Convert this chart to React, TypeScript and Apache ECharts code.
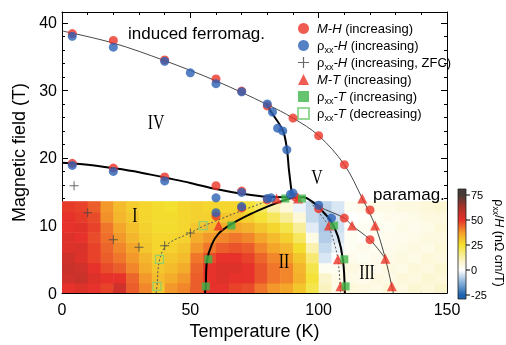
import React, { useEffect, useRef } from 'react';
import * as echarts from 'echarts';

const FONT = '"Liberation Sans", Arial, Helvetica, sans-serif';
const SERIF = '"Liberation Serif", "Times New Roman", serif';

// ---- scatter data ----
const mhT = [4, 20, 40, 60, 70, 80, 90, 100, 110, 120, 120, 110, 4, 20, 40, 60, 70, 60, 70, 80, 91, 100];
const mhH = [38.4, 37.4, 34.5, 31.7, 29.9, 27.7, 25.9, 23.3, 19.0, 12.3, 7.9, 11.1, 19.2, 18.5, 17.2, 15.9, 15.1, 11.4, 12.6, 13.8, 14.2, 12.5];

const rhoHT = [4, 20, 40, 50, 60, 70, 80, 82, 84, 86, 87.6, 4, 20, 40, 60, 70, 60, 70, 80, 81.5, 89, 90, 100, 105];
const rhoHH = [38.0, 36.4, 34.3, 32.6, 31.0, 29.8, 28.0, 26.8, 24.4, 24.0, 21.2, 18.9, 18.0, 16.6, 14.1, 14.9, 11.9, 12.8, 14.0, 14.1, 14.6, 14.8, 13.0, 11.1];

const zfcT = [4.7, 10, 20, 30, 40, 50];
const zfcH = [15.9, 11.9, 7.9, 6.8, 7.0, 8.9];

const mtT = [61, 83.6, 92, 104, 107.5, 108.5, 113, 117, 122, 126, 128.5];
const mtH = [10, 14, 14, 10, 5, 1, 10, 14, 10, 5.1, 1];

const rxxIncT = [56, 57, 66, 87, 93.5, 106, 110, 110.5];
const rxxIncH = [1, 5, 10, 14, 14, 10, 5, 1];

const rxxDecT = [37, 38, 55];
const rxxDecH = [1, 5, 10];

// ---- boundary lines ----
const upperT = [0, 20, 40, 60, 80, 90, 100, 110, 117, 122, 126, 128.5, 129.1];
const upperH = [38.8, 37.0, 34.4, 31.4, 27.9, 25.9, 23.3, 19.0, 14.0, 10.0, 5.1, 1.0, 0];

const secondT = [96.6, 100, 110, 113, 120, 126];
const secondH = [13.6, 12.8, 11.1, 10.0, 7.9, 5.1];

const lowT = [0, 10, 20, 30, 40, 50, 60, 70, 80, 88];
const lowH = [19.3, 19.0, 18.5, 17.9, 17.1, 16.3, 15.4, 14.7, 14.25, 14.2];

const domeT = [55.7, 56, 56.5, 58.4, 61, 66, 74, 80, 85.5, 90, 94, 98, 101, 104.5, 107.5, 109.5, 110.2];
const domeH = [0, 1, 4.8, 7.2, 8.8, 10.2, 11.8, 12.8, 13.6, 14.1, 14.2, 13.4, 12.3, 10.8, 8.4, 4.8, 0];

const vertT = [80, 81, 86, 87.6, 88.4, 89.6];
const vertH = [27.9, 27.1, 24.1, 21.4, 18.3, 14.5];

const dotLT = [36.6, 37, 38, 41, 50, 55, 62, 70, 80];
const dotLH = [0, 1, 4.9, 7.2, 8.9, 9.9, 11.0, 12.2, 13.6];

const dotRT = [97, 98.5, 101, 103.7, 106, 107.5, 108.4, 108.5];
const dotRH = [13.6, 12.6, 11.5, 10, 7.5, 5, 1, 0];

// ---- heatmap (rho_xx / H) ----
const tempEdges = [0, 5, 10, 15, 20, 25, 30, 35, 40, 45, 50, 55, 60, 65, 70, 75, 80, 85, 90, 95, 100, 105, 110, 115, 120, 125, 130, 135, 140, 145, 150];
const fieldEdges = [0, 1.5, 3, 4.5, 6, 7.5, 9, 10.5, 12, 13.6];
const rhoOverH = [
  [50, 55, 56, 55, 52, 52, 50, 50, 49],
  [52, 56, 55, 52, 53, 50, 51, 49, 48],
  [50, 52, 50, 48, 48, 47, 48, 47, 45],
  [48, 50, 47, 45, 44, 43, 42, 39, 38],
  [55, 50, 45, 42, 40, 38, 36, 33, 32],
  [45, 44, 40, 38, 36, 33, 31, 30, 29],
  [40, 38, 35, 33, 30, 29, 28, 27, 27],
  [30, 32, 30, 28, 27, 27, 26, 26, 26],
  [38, 35, 32, 30, 28, 27, 26, 26, 25],
  [40, 38, 35, 32, 30, 28, 27, 27, 27],
  [45, 45, 44, 42, 38, 35, 30, 28, 28],
  [50, 50, 50, 47, 42, 38, 32, 28, 27],
  [50, 52, 52, 50, 45, 40, 35, 30, 27],
  [48, 50, 52, 50, 46, 42, 36, 30, 27],
  [47, 50, 50, 48, 45, 40, 34, 28, 24],
  [42, 46, 46, 44, 40, 36, 30, 24, 20],
  [38, 42, 42, 40, 36, 32, 27, 20, 12],
  [36, 40, 40, 37, 33, 28, 22, 14, 6],
  [30, 34, 33, 30, 26, 20, 14, 6, -2],
  [22, 24, 22, 18, 12, 4, -3, -6, -6],
  [10, 8, 2, -4, -6, -8, -9, -9, -7],
  [4, 4, 2, 0, -2, -4, -5, -5, -4],
  [6, 4, 5, 3, 2, 2, 1, 0, 2],
  [5, 3, 4, 2, 3, 1, 2, 1, 3],
  [4, 5, 3, 3, 2, 2, 3, 2, 4],
  [6, 4, 5, 4, 3, 3, 2, 3, 4],
  [5, 6, 4, 5, 4, 3, 4, 3, 5],
  [7, 5, 6, 4, 5, 4, 3, 4, 5],
  [6, 7, 5, 6, 4, 5, 4, 5, 6],
  [8, 6, 7, 5, 6, 5, 6, 5, 7],
];

// colour map
const cmapValues = [-25, -12, 0, 10, 25, 37, 50, 63, 75];
const cmapColors = ['#1d63ad', '#8db4dc', '#ffffff', '#faf3c0', '#f4e12f', '#f4a12a', '#e6322a', '#a8322a', '#463a36'];
const cbarTicks = [75, 50, 25, 0, -25];

function hexToRgb(h: string) {
  const n = parseInt(h.slice(1), 16);
  return [(n >> 16) & 255, (n >> 8) & 255, n & 255];
}
function colorFor(v: number) {
  if (v <= cmapValues[0]) return cmapColors[0];
  const last = cmapValues.length - 1;
  if (v >= cmapValues[last]) return cmapColors[last];
  for (let i = 0; i < last; i++) {
    const a = cmapValues[i], b = cmapValues[i + 1];
    if (v >= a && v <= b) {
      const t = (v - a) / (b - a);
      const c0 = hexToRgb(cmapColors[i]), c1 = hexToRgb(cmapColors[i + 1]);
      const c = c0.map((x, k) => Math.round(x + (c1[k] - x) * t));
      return `rgb(${c[0]},${c[1]},${c[2]})`;
    }
  }
  return '#fff';
}

const zip = (a: number[], b: number[]) => a.map((x, i) => [x, b[i]]);

export default function App() {
  const ref = useRef<HTMLDivElement>(null);
  useEffect(() => {
    const chart = echarts.init(ref.current!, null, { renderer: 'svg' });

    const heatData: number[][] = [];
    for (let i = 0; i < tempEdges.length - 1; i++) {
      for (let j = 0; j < fieldEdges.length - 1; j++) {
        heatData.push([tempEdges[i], tempEdges[i + 1], fieldEdges[j], fieldEdges[j + 1], rhoOverH[i][j]]);
      }
    }

    const axisCommon = {
      axisLine: { show: true, onZero: false, lineStyle: { color: '#000', width: 1 } },
      axisTick: { show: true, inside: true, length: 6, lineStyle: { color: '#000', width: 1 } },
      minorTick: { show: true, splitNumber: 5, length: 3, lineStyle: { color: '#000', width: 1 } },
      splitLine: { show: false },
      minorSplitLine: { show: false },
    };
    const labelFmt = (v: number) => (Math.abs(v % 10) < 1e-6 ? String(v) : '');

    const rich = {
      it: { fontStyle: 'italic', fontSize: 13, fontFamily: FONT, color: '#000' },
      n: { fontSize: 13, fontFamily: FONT, color: '#000' },
      sub: { fontSize: 9, fontFamily: FONT, color: '#000', padding: [8, 0, 0, 0] },
    };
    const legendText: Record<string, string> = {
      'M-H (increasing)': '{it|M-H}{n| (increasing)}',
      'ρxx-H (increasing)': '{n|ρ}{sub|xx}{it|-H}{n| (increasing)}',
      'ρxx-H (increasing, ZFC)': '{n|ρ}{sub|xx}{it|-H}{n| (increasing, ZFC)}',
      'M-T (increasing)': '{it|M-T}{n| (increasing)}',
      'ρxx-T (increasing)': '{n|ρ}{sub|xx}{it|-T}{n| (increasing)}',
      'ρxx-T (decreasing)': '{n|ρ}{sub|xx}{it|-T}{n| (decreasing)}',
    };

    const lineSeries = (data: number[][], color: string, width: number, type: any = 'solid') => ({
      type: 'line', data, smooth: 0.35, showSymbol: false, symbol: 'none', silent: true, z: 3,
      lineStyle: { color, width, type }, xAxisIndex: 0, yAxisIndex: 0,
    });

    const red = '#ec3327';
    const blue = '#2b62b5';
    const green = '#3fb549';

    const cbTop = 189, cbHeight = 110, cbMax = 81, cbMin = -29, cbX = 458, cbW = 8;
    const cbY = (v: number) => cbTop + ((cbMax - v) / (cbMax - cbMin)) * cbHeight;
    const gradStops = cmapValues.map((v, i) => ({ offset: (cbMax - v) / (cbMax - cbMin), color: cmapColors[i] }))
      .filter(s => s.offset >= 0 && s.offset <= 1).sort((a, b) => a.offset - b.offset);
    gradStops.unshift({ offset: 0, color: colorFor(cbMax) });
    gradStops.push({ offset: 1, color: colorFor(cbMin) });

    const graphics: any[] = [
      { type: 'text', x: 128, y: 33, style: { text: 'induced ferromag.', font: `17px ${FONT}`, fill: '#000', verticalAlign: 'middle', align: 'left' }, z: 10 },
      { type: 'text', x: 373, y: 194, style: { text: 'paramag.', font: `17px ${FONT}`, fill: '#000', verticalAlign: 'middle', align: 'left' }, z: 10 },
      { type: 'text', x: 156, y: 122, scaleX: 0.75, style: { text: 'IV', font: `21px ${SERIF}`, fill: '#000', verticalAlign: 'middle', align: 'center' }, z: 10 },
      { type: 'text', x: 317, y: 177, scaleX: 0.75, style: { text: 'V', font: `21px ${SERIF}`, fill: '#000', verticalAlign: 'middle', align: 'center' }, z: 10 },
      { type: 'text', x: 135, y: 215, scaleX: 0.75, style: { text: 'I', font: `21px ${SERIF}`, fill: '#000', verticalAlign: 'middle', align: 'center' }, z: 10 },
      { type: 'text', x: 284, y: 261, scaleX: 0.75, style: { text: 'II', font: `21px ${SERIF}`, fill: '#000', verticalAlign: 'middle', align: 'center' }, z: 10 },
      { type: 'text', x: 367, y: 272, scaleX: 0.75, style: { text: 'III', font: `21px ${SERIF}`, fill: '#000', verticalAlign: 'middle', align: 'center' }, z: 10 },
      {
        type: 'rect', shape: { x: cbX, y: cbTop, width: cbW, height: cbHeight },
        style: { fill: new echarts.graphic.LinearGradient(0, 0, 0, 1, gradStops), stroke: '#222', lineWidth: 0.8 }, z: 10,
      },
      ...cbarTicks.map(v => ({ type: 'line', shape: { x1: cbX + cbW, y1: cbY(v), x2: cbX + cbW + 4, y2: cbY(v) }, style: { stroke: '#000', lineWidth: 1 }, z: 10 })),
      ...cbarTicks.map(v => ({ type: 'text', x: cbX + cbW + 5, y: cbY(v), style: { text: String(v), font: `11px ${FONT}`, fill: '#000', verticalAlign: 'middle', align: 'left' }, z: 10 })),
      {
        type: 'text', x: 499, y: 243, rotation: -Math.PI / 2, z: 10,
        style: {
          text: '{n|ρ}{sub|xx}{n|/}{it|H}{n| (nΩ cm/T)}', align: 'center', verticalAlign: 'middle',
          rich: {
            n: { fontSize: 12.5, fontFamily: FONT, fill: '#000' },
            it: { fontSize: 12.5, fontFamily: FONT, fontStyle: 'italic', fill: '#000' },
            sub: { fontSize: 8.5, fontFamily: FONT, fill: '#000', padding: [7, 0, 0, 0] },
          },
        },
      },
    ];

    const option: any = {
      animation: false,
      textStyle: { fontFamily: FONT },
      grid: { left: 62, right: 59, top: 12, bottom: 45, containLabel: false },
      xAxis: [
        {
          type: 'value', min: 0, max: 150, interval: 50, position: 'bottom',
          name: 'Temperature (K)', nameLocation: 'middle', nameGap: 27,
          nameTextStyle: { fontSize: 18, color: '#000', fontFamily: FONT },
          axisLabel: { fontSize: 16, color: '#000', margin: 8, fontFamily: FONT },
          ...axisCommon,
        },
        { type: 'value', min: 0, max: 150, interval: 50, position: 'top', axisLabel: { show: false }, ...axisCommon },
      ],
      yAxis: [
        {
          type: 'value', min: 0, max: 41.6, interval: 10, position: 'left',
          name: 'Magnetic field (T)', nameLocation: 'middle', nameGap: 29,
          nameTextStyle: { fontSize: 18, color: '#000', fontFamily: FONT },
          axisLabel: { fontSize: 16, color: '#000', margin: 5, fontFamily: FONT, formatter: labelFmt, showMaxLabel: false },
          ...axisCommon,
        },
        { type: 'value', min: 0, max: 41.6, interval: 10, position: 'right', axisLabel: { show: false }, ...axisCommon },
      ],
      legend: {
        show: true, orient: 'vertical', left: 292, top: 15, itemWidth: 11, itemHeight: 11, itemGap: 0,
        data: Object.keys(legendText),
        formatter: (name: string) => legendText[name] || name,
        textStyle: { fontSize: 13, fontFamily: FONT, color: '#000', lineHeight: 17, padding: [0, 0, 0, 3], rich },
      },
      graphic: graphics,
      series: [
        {
          type: 'custom', silent: true, z: 1, clip: true,
          encode: { x: [0, 1], y: [2, 3] },
          data: heatData,
          renderItem: (params: any, api: any) => {
            const p0 = api.coord([api.value(0), api.value(3)]);
            const p1 = api.coord([api.value(1), api.value(2)]);
            return {
              type: 'rect',
              shape: { x: p0[0], y: p0[1], width: p1[0] - p0[0] + 0.5, height: p1[1] - p0[1] + 0.5 },
              style: { fill: colorFor(api.value(4)), stroke: null },
            };
          },
        },
        lineSeries(zip(upperT, upperH), '#333', 0.9),
        lineSeries(zip(secondT, secondH), '#333', 0.9),
        lineSeries(zip(lowT, lowH), '#000', 2),
        lineSeries(zip(domeT, domeH), '#000', 2),
        lineSeries(zip(vertT, vertH), '#000', 2),
        lineSeries(zip(dotLT, dotLH), '#555', 1, [2, 2]),
        lineSeries(zip(dotRT, dotRH), '#555', 1, [2, 2]),
        {
          name: 'M-H (increasing)', type: 'scatter', data: zip(mhT, mhH), symbol: 'circle', symbolSize: 9, z: 5,
          itemStyle: { color: red },
        },
        {
          name: 'ρxx-H (increasing)', type: 'scatter', data: zip(rhoHT, rhoHH), symbol: 'circle', symbolSize: 9, z: 6,
          itemStyle: { color: blue },
        },
        {
          name: 'ρxx-H (increasing, ZFC)', type: 'scatter', data: zip(zfcT, zfcH),
          symbol: 'path://M4.45,0H5.55V4.45H10V5.55H5.55V10H4.45V5.55H0V4.45H4.45Z', symbolSize: 9, z: 6,
          itemStyle: { color: '#444' },
        },
        {
          name: 'M-T (increasing)', type: 'scatter', data: zip(mtT, mtH), symbol: 'triangle', symbolSize: 10, z: 5,
          itemStyle: { color: red },
        },
        {
          name: 'ρxx-T (increasing)', type: 'scatter', data: zip(rxxIncT, rxxIncH), symbol: 'rect', symbolSize: 8, z: 5,
          itemStyle: { color: green },
        },
        {
          name: 'ρxx-T (decreasing)', type: 'scatter', data: zip(rxxDecT, rxxDecH), symbol: 'rect', symbolSize: 8, z: 5,
          itemStyle: { color: 'rgba(255,255,255,0)', borderColor: '#7ccf7c', borderWidth: 1.2 },
        },
      ],
    };
    chart.setOption(option);
    return () => chart.dispose();
  }, []);
  return <div ref={ref} style={{ position: 'fixed', left: 0, top: 0, width: 506, height: 345 }} />;
}
